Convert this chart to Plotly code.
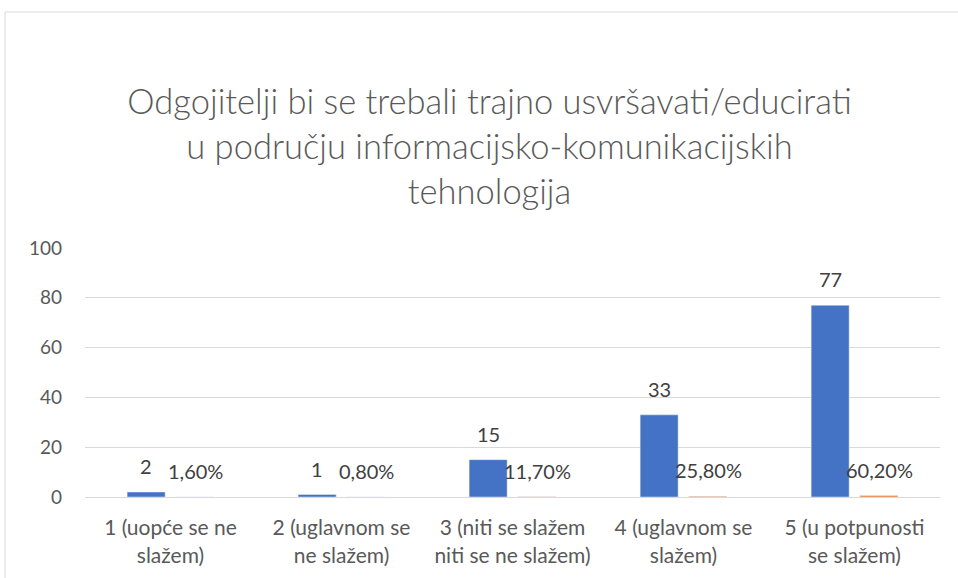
import plotly.graph_objects as go

categories = ["1 (uopće se ne<br>slažem)", "2 (uglavnom se<br>ne slažem)", "3 (niti se slažem<br>niti se ne slažem)",
              "4 (uglavnom se<br>slažem)", "5 (u potpunosti<br>se slažem)"]
counts = [2, 1, 15, 33, 77]
shares = [0.016, 0.008, 0.117, 0.258, 0.602]
share_labels = ["1,60%", "0,80%", "11,70%", "25,80%", "60,20%"]
y_ticks = [0, 20, 40, 60, 80, 100]

title = "Odgojitelji bi se trebali trajno usvršavati/educirati<br>u području informacijsko-komunikacijskih<br>tehnologija"

FONT = "Lato"
GREY = "#595959"

fig = go.Figure()
fig.add_trace(go.Bar(x=categories, y=counts, name="Broj", marker_color="#4472C4"))
fig.add_trace(go.Bar(x=categories, y=shares, name="Postotak", marker_color="#ED7D31"))

annotations = []
for c, v in zip(categories, counts):
    annotations.append(dict(x=c, y=v, xref="x", yref="y", text=str(v), showarrow=False,
                            xshift=-24.5, yshift=12, yanchor="bottom",
                            font=dict(family=FONT, size=20, color="#404040")))
for c, v, t in zip(categories, shares, share_labels):
    annotations.append(dict(x=c, y=v, xref="x", yref="y", text=t, showarrow=False,
                            xshift=24.5, yshift=12, yanchor="bottom",
                            font=dict(family=FONT, size=20, color="#404040")))

fig.update_layout(
    width=958, height=578,
    margin=dict(l=85, r=18, t=248, b=81),
    paper_bgcolor="white", plot_bgcolor="white",
    barmode="group", bargap=0.43, bargroupgap=0.22,
    showlegend=False,
    title=dict(text=title, x=0.511, xanchor="center", y=1 - 114 / 578, yanchor="top",
               yref="container", font=dict(family=FONT, size=34.5, color=GREY, weight=300)),
    font=dict(family=FONT, color=GREY),
    annotations=annotations,
    shapes=[
        dict(type="line", xref="paper", yref="paper", x0=(5 - 85) / 855, x1=1.2,
             y0=(497 - 12) / 249, y1=(497 - 12) / 249, line=dict(color="#d9d9d9", width=1)),
        dict(type="line", xref="paper", yref="paper", x0=(5 - 85) / 855, x1=(5 - 85) / 855,
             y0=(497 - 12) / 249, y1=-0.5, line=dict(color="#d9d9d9", width=1)),
    ],
)
fig.update_yaxes(range=[0, 100], tickvals=y_ticks, showgrid=True, gridcolor="#d9d9d9",
                 zeroline=False, showline=False, ticks="", ticklabelstandoff=22,
                 automargin=False,
                 tickfont=dict(family=FONT, size=19, color=GREY))
fig.update_xaxes(showline=True, linecolor="#d9d9d9", ticks="", showgrid=False,
                 ticklabelstandoff=12, automargin=False,
                 tickfont=dict(family=FONT, size=21, color=GREY))

fig.write_html("out.html", config={"displayModeBar": False},
               post_script="document.body.style.margin='0';")
